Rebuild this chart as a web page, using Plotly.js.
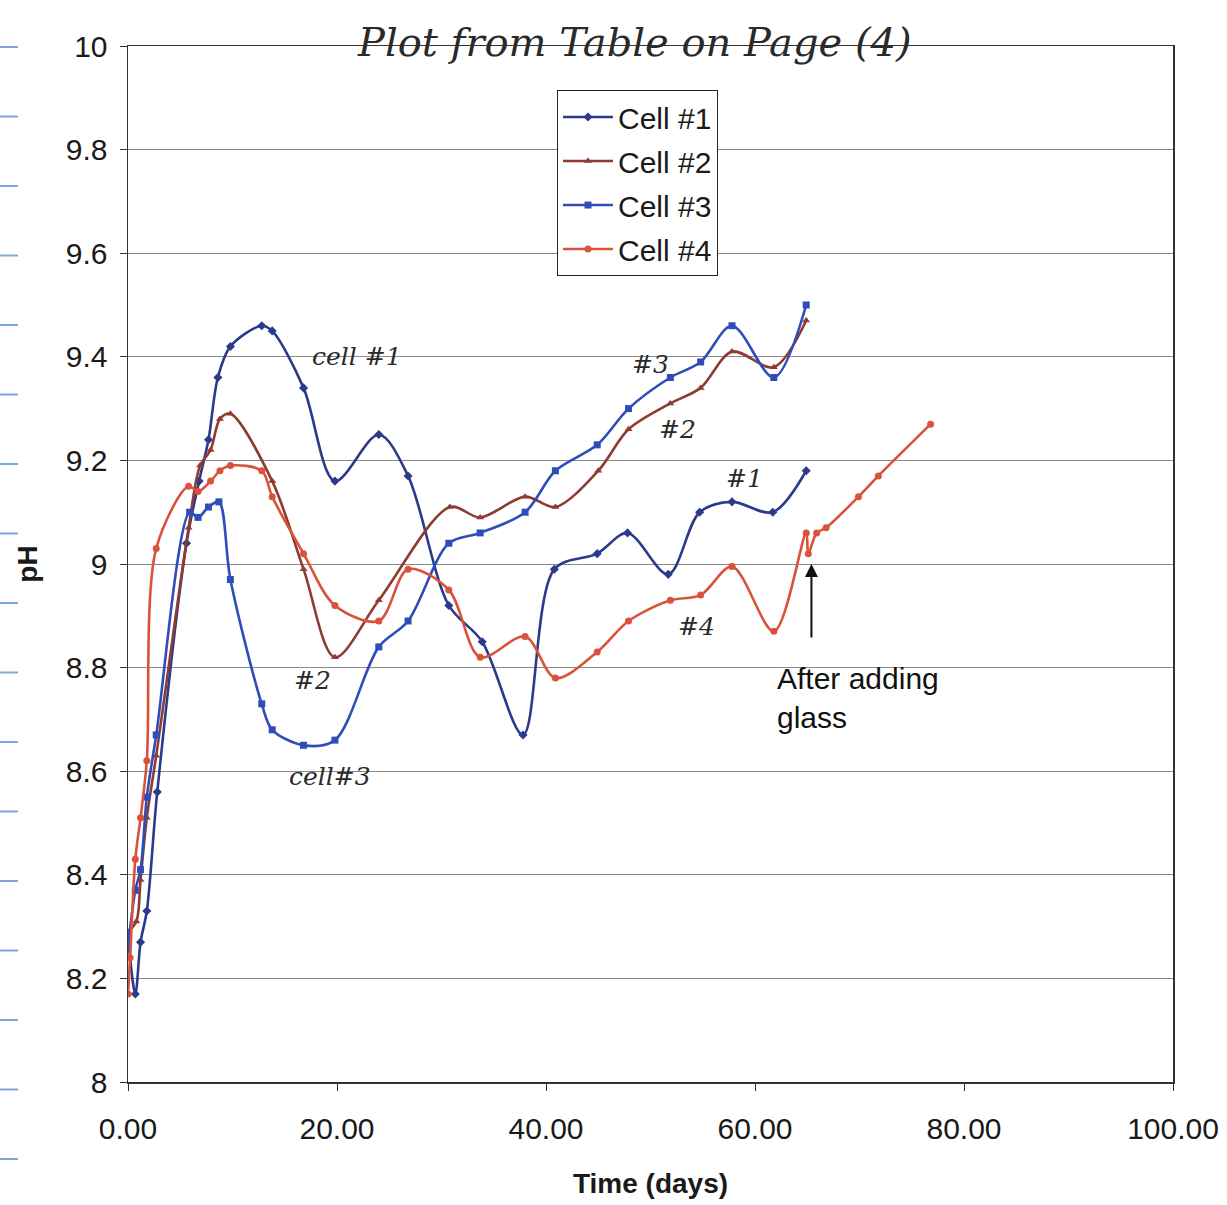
<!DOCTYPE html>
<html>
<head>
<meta charset="utf-8">
<script src="https://cdn.plot.ly/plotly-3.0.1.min.js"></script>
<style>html,body{margin:0;padding:0;background:#fff;}#chart{width:1227px;height:1205px;}</style>
</head>
<body>
<div id="chart"></div>
<script>
// ---- Data ----
const cell1_t  = [0, 0.7, 1.2, 1.8, 2.8, 5.6, 6.8, 7.7, 8.6, 9.8, 12.8, 13.8, 16.8, 19.8, 24.0, 26.8, 30.7, 33.9, 37.8, 40.8, 44.9, 47.8, 51.7, 54.7, 57.8, 61.7, 64.9];
const cell1_pH = [8.28, 8.17, 8.27, 8.33, 8.56, 9.04, 9.16, 9.24, 9.36, 9.42, 9.46, 9.45, 9.34, 9.16, 9.25, 9.17, 8.92, 8.85, 8.67, 8.99, 9.02, 9.06, 8.98, 9.10, 9.12, 9.10, 9.18];

const cell2_t  = [0, 0.8, 1.2, 1.8, 2.7, 5.8, 6.9, 7.9, 8.8, 9.8, 13.8, 16.8, 19.8, 24.0, 30.8, 33.7, 38.0, 40.9, 45.0, 47.9, 51.9, 54.8, 57.8, 61.8, 64.9];
const cell2_pH = [8.29, 8.31, 8.39, 8.51, 8.63, 9.07, 9.19, 9.22, 9.28, 9.29, 9.16, 8.99, 8.82, 8.93, 9.11, 9.09, 9.13, 9.11, 9.18, 9.26, 9.31, 9.34, 9.41, 9.38, 9.47];

const cell3_t  = [0, 0.7, 1.2, 1.8, 2.7, 5.9, 6.7, 7.7, 8.7, 9.8, 12.8, 13.8, 16.8, 19.8, 24.0, 26.8, 30.7, 33.7, 38.0, 40.9, 44.9, 47.9, 51.9, 54.8, 57.8, 61.8, 64.9];
const cell3_pH = [8.26, 8.37, 8.41, 8.55, 8.67, 9.10, 9.09, 9.11, 9.12, 8.97, 8.73, 8.68, 8.65, 8.66, 8.84, 8.89, 9.04, 9.06, 9.10, 9.18, 9.23, 9.30, 9.36, 9.39, 9.46, 9.36, 9.50];

const cell4_t  = [0, 0.2, 0.7, 1.2, 1.8, 2.7, 5.8, 6.7, 7.9, 8.8, 9.8, 12.8, 13.8, 16.8, 19.8, 24.0, 26.8, 30.7, 33.7, 38.0, 40.9, 44.9, 47.9, 51.9, 54.8, 57.8, 61.8, 64.9, 65.1, 65.9, 66.8, 69.9, 71.8, 76.8];
const cell4_pH = [8.17, 8.24, 8.43, 8.51, 8.62, 9.03, 9.15, 9.14, 9.16, 9.18, 9.19, 9.18, 9.13, 9.02, 8.92, 8.89, 8.99, 8.95, 8.82, 8.86, 8.78, 8.83, 8.89, 8.93, 8.94, 8.995, 8.87, 9.06, 9.02, 9.06, 9.07, 9.13, 9.17, 9.27];

const seriesNames = ["Cell #1", "Cell #2", "Cell #3", "Cell #4"];
const xTickVals = [0, 20, 40, 60, 80, 100];
const yTickVals = [8, 8.2, 8.4, 8.6, 8.8, 9, 9.2, 9.4, 9.6, 9.8, 10];

// Handwritten notes on the page
const noteTexts = ["cell #1", "#3", "#2", "#1", "#4", "#2", "cell#3"];
const noteX     = [21.9, 50.0, 52.6, 59.0, 54.4, 17.7, 19.3];
const noteY     = [9.40, 9.385, 9.26, 9.166, 8.88, 8.776, 8.59];

// ---- Styling ----
const colors  = ["#2C3A8C", "#8E3B33", "#2F4DB8", "#D9523A"];
const symbols = ["diamond", "triangle-up", "square", "circle"];
const xs = [cell1_t, cell2_t, cell3_t, cell4_t];
const ys = [cell1_pH, cell2_pH, cell3_pH, cell4_pH];

const traces = seriesNames.map((n, i) => ({
  type: "scatter", mode: "lines+markers", name: n, legendgroup: "g" + i,
  x: xs[i], y: ys[i],
  line: {color: colors[i], width: 2.6, shape: "spline", smoothing: 0.9},
  marker: {color: colors[i], symbol: symbols[i], size: 7}
}));

const FONT = "Liberation Sans, Arial, sans-serif";
const HAND = "DejaVu Serif, serif";

const annotations = noteTexts.map((t, i) => ({
  x: noteX[i], y: noteY[i], xref: "x", yref: "y", text: t, showarrow: false,
  font: {family: HAND, size: 25, color: "#2a2a2a", style: "italic"}
}));
annotations.push({
  x: 0.485, y: (1082 - 42) / 1036, xref: "paper", yref: "paper", yanchor: "middle",
  text: "Plot from Table on Page (4)",
  showarrow: false, font: {family: HAND, size: 40, color: "#2a2a2a", style: "italic"}
});
annotations.push({
  x: 65.4, y: 9.0, ax: 65.4, ay: 8.855, xref: "x", yref: "y", axref: "x", ayref: "y",
  text: "", showarrow: true, arrowhead: 2, arrowsize: 1.3, arrowwidth: 2, arrowcolor: "#111"
});
annotations.push({
  x: 61.9, y: 8.815, xref: "x", yref: "y", xanchor: "left", yanchor: "top", align: "left",
  text: "After adding<br>glass", showarrow: false,
  font: {family: FONT, size: 30, color: "#111"}
});

// notebook-paper dashes in the left margin
const shapes = [];
for (let k = 0; k < 17; k++) {
  const py = 47 + k * 69.5;
  shapes.push({type: "line", xref: "paper", yref: "paper",
    x0: -128/1045, x1: -110/1045, y0: (1082 - py)/1036, y1: (1082 - py)/1036,
    line: {color: "#7FA6DA", width: 2}});
}

const layout = {
  width: 1227, height: 1205,
  margin: {l: 128, r: 54, t: 46, b: 123},
  paper_bgcolor: "#fff", plot_bgcolor: "#fff",
  font: {family: FONT, size: 30, color: "#1a1a1a"},
  showlegend: true,
  legend: {x: 0.4105, y: 0.9575, xanchor: "left", yanchor: "top",
    bgcolor: "#fff", bordercolor: "#222", borderwidth: 1, itemwidth: 50,
    font: {family: FONT, size: 30, color: "#1a1a1a"}, tracegroupgap: 2},
  xaxis: {range: [0, 100], tickvals: xTickVals, tickformat: ".2f",
    showgrid: false, zeroline: false, showline: true, mirror: true,
    linecolor: "#333", linewidth: 1.5, ticks: "outside", ticklen: 7, tickcolor: "#333",
    ticklabelstandoff: 12,
    title: {text: "<b>Time (days)</b>", font: {family: FONT, size: 28}, standoff: 30}},
  yaxis: {range: [8, 10], tickvals: yTickVals,
    showgrid: true, gridcolor: "#8a8a8a", gridwidth: 1, zeroline: false,
    showline: true, mirror: true, linecolor: "#333", linewidth: 1.5,
    ticks: "outside", ticklen: 7, tickcolor: "#333", ticklabelstandoff: 6,
    title: {text: "<b>pH</b>", font: {family: FONT, size: 28}, standoff: 20}},
  annotations: annotations,
  shapes: shapes
};

Plotly.newPlot("chart", traces, layout, {displayModeBar: false, staticPlot: true});
</script>
</body>
</html>
